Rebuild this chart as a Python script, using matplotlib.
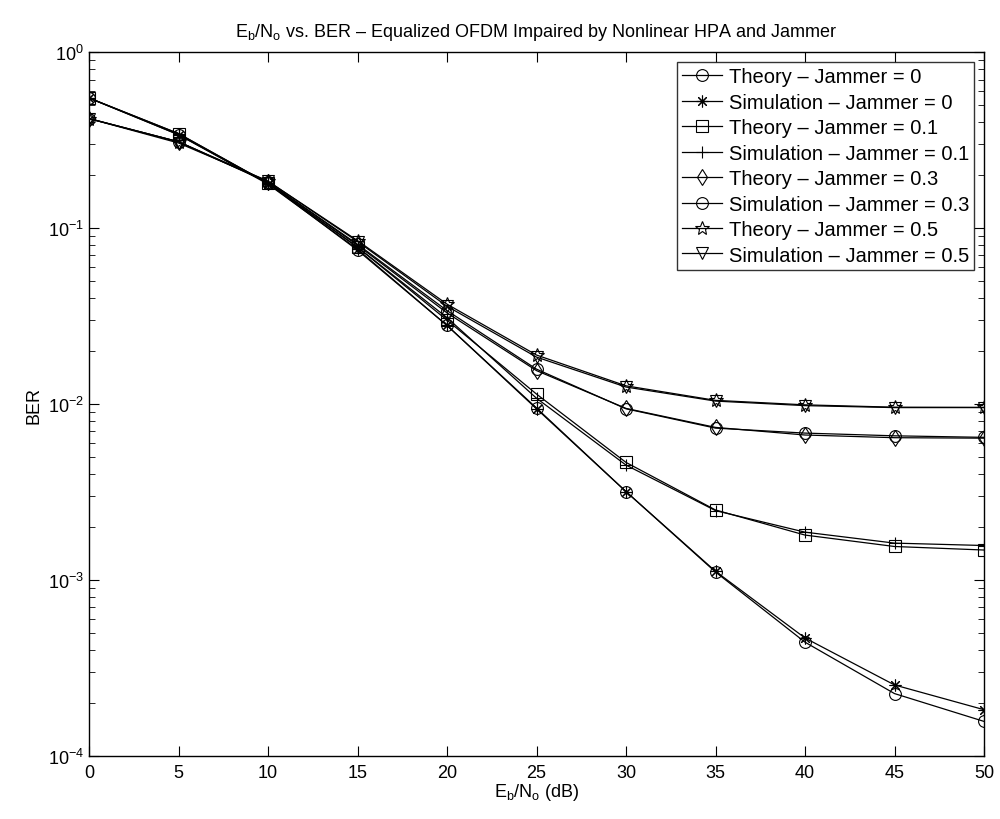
import matplotlib
matplotlib.use("Agg")
import matplotlib.pyplot as plt
import numpy as np

plt.rcParams['font.family'] = ['Liberation Sans', 'DejaVu Sans']
plt.rcParams['mathtext.fontset'] = 'custom'
plt.rcParams['mathtext.rm'] = 'Liberation Sans'
plt.rcParams['mathtext.it'] = 'Liberation Sans'
plt.rcParams['mathtext.default'] = 'regular'

# Eb/No points (dB)
ebno = [0, 5, 10, 15, 20, 25, 30, 35, 40, 45, 50]

# BER values
th_j0 = [0.55, 0.34, 0.180, 0.075, 0.028, 0.0095, 3.18e-3, 1.11e-3, 4.43e-4, 2.26e-4, 1.57e-4]
sim_j0 = [0.55, 0.34, 0.178, 0.076, 0.028, 0.0094, 3.18e-3, 1.12e-3, 4.68e-4, 2.53e-4, 1.83e-4]
th_j01 = [0.55, 0.345, 0.180, 0.078, 0.030, 0.0114, 4.66e-3, 2.50e-3, 1.80e-3, 1.55e-3, 1.48e-3]
sim_j01 = [0.55, 0.345, 0.180, 0.078, 0.031, 0.0108, 4.50e-3, 2.48e-3, 1.87e-3, 1.62e-3, 1.57e-3]
th_j03 = [0.42, 0.31, 0.182, 0.080, 0.033, 0.0155, 9.45e-3, 7.37e-3, 6.67e-3, 6.44e-3, 6.40e-3]
sim_j03 = [0.42, 0.31, 0.183, 0.081, 0.034, 0.0158, 9.40e-3, 7.30e-3, 6.84e-3, 6.60e-3, 6.47e-3]
th_j05 = [0.42, 0.31, 0.185, 0.085, 0.037, 0.0190, 0.0127, 0.0105, 9.9e-3, 9.6e-3, 9.58e-3]
sim_j05 = [0.42, 0.305, 0.185, 0.084, 0.036, 0.0185, 0.0125, 0.0104, 9.8e-3, 9.55e-3, 9.55e-3]

dash = '\u2013'
series = [
    (th_j0, 'o', 'Theory ' + dash + ' Jammer = 0'),
    (sim_j0, (8, 2, 0), 'Simulation ' + dash + ' Jammer = 0'),
    (th_j01, 's', 'Theory ' + dash + ' Jammer = 0.1'),
    (sim_j01, '+', 'Simulation ' + dash + ' Jammer = 0.1'),
    (th_j03, 'd', 'Theory ' + dash + ' Jammer = 0.3'),
    (sim_j03, 'o', 'Simulation ' + dash + ' Jammer = 0.3'),
    (th_j05, '*', 'Theory ' + dash + ' Jammer = 0.5'),
    (sim_j05, 'v', 'Simulation ' + dash + ' Jammer = 0.5'),
]

fig = plt.figure(figsize=(10, 8.2), dpi=100)
ax = fig.add_axes([0.089, 0.077, 0.895, 0.858])

for y, m, lab in series:
    ms = 8.5
    if m == '*':
        ms = 10
    if m == '+' or m == 'v':
        ms = 9
    ax.plot(ebno, y, color='black', linewidth=0.9, marker=m, markersize=ms,
            markerfacecolor='none', markeredgecolor='black', markeredgewidth=0.8,
            label=lab)

ax.set_yscale('log')
ax.set_xlim(0, 50)
ax.set_ylim(1e-4, 1)
ax.set_xticks(range(0, 51, 5))
ax.tick_params(which='both', direction='in', top=True, right=True, labelsize=13)
ax.tick_params(which='major', length=7)
ax.tick_params(which='minor', length=4)
ax.tick_params(axis='x', pad=6)
for s in ax.spines.values():
    s.set_linewidth(1.0)

ax.set_title(r'$E_b/N_o$ vs. BER ' + dash + ' Equalized OFDM Impaired by Nonlinear HPA and Jammer',
             fontsize=13, pad=12)
ax.set_xlabel(r'$E_b/N_o$ (dB)', fontsize=13, labelpad=0)
ax.set_ylabel('BER', fontsize=13)

leg = ax.legend(loc='upper right', fontsize=14.5, frameon=True, fancybox=False,
                edgecolor='black', borderpad=0.25, labelspacing=0.32,
                handlelength=2.0, handletextpad=0.3, borderaxespad=0.5)
leg.get_frame().set_linewidth(1.0)

fig.savefig('out.png', dpi=100)
